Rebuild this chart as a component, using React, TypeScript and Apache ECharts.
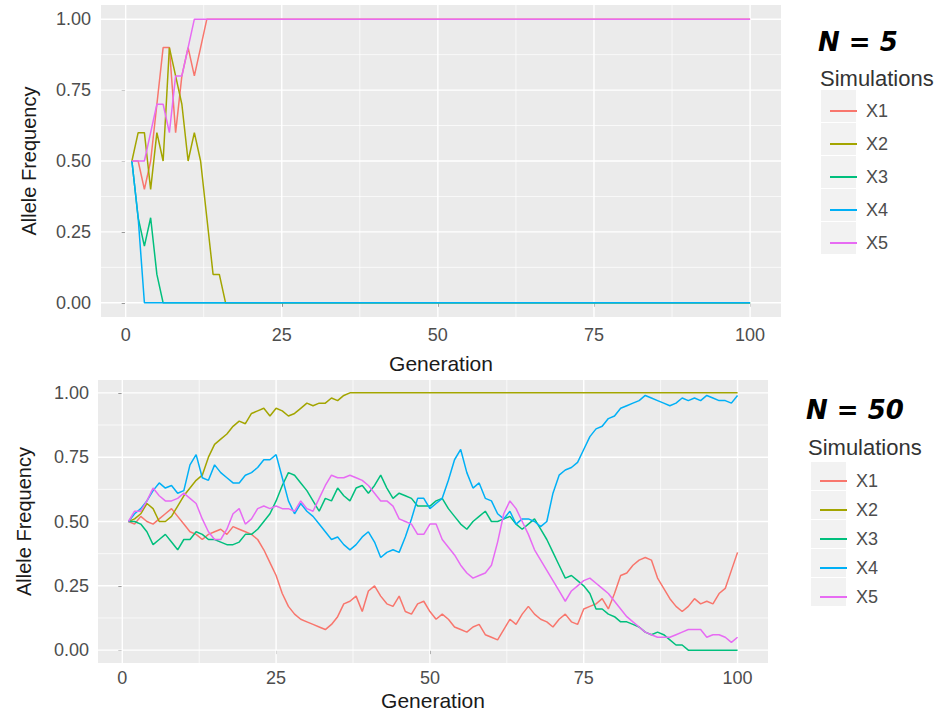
import React, { useEffect, useRef } from "react";
import * as echarts from "echarts";

// ---------- data ----------
const SERIES_NAMES = ["X1", "X2", "X3", "X4", "X5"];
const COLORS = ["#F8766D", "#A3A500", "#00BF7D", "#00B0F6", "#E76BF3"];
const X_TICKS = [0, 25, 50, 75, 100];
const X_MINOR = [12.5, 37.5, 62.5, 87.5];
const Y_TICKS = [0, 0.25, 0.5, 0.75, 1];
const Y_MINOR = [0.125, 0.375, 0.625, 0.875];
const GENERATIONS = Array.from({ length: 100 }, (_, i) => i + 1);

// N = 5
const N5_X1 = [
  0.5, 0.5, 0.4, 0.5, 0.7, 0.9, 0.9, 0.6, 0.8, 0.9,
  0.8, 0.9, 1, 1, 1, 1, 1, 1, 1, 1,
  1, 1, 1, 1, 1, 1, 1, 1, 1, 1,
  1, 1, 1, 1, 1, 1, 1, 1, 1, 1,
  1, 1, 1, 1, 1, 1, 1, 1, 1, 1,
  1, 1, 1, 1, 1, 1, 1, 1, 1, 1,
  1, 1, 1, 1, 1, 1, 1, 1, 1, 1,
  1, 1, 1, 1, 1, 1, 1, 1, 1, 1,
  1, 1, 1, 1, 1, 1, 1, 1, 1, 1,
  1, 1, 1, 1, 1, 1, 1, 1, 1, 1,
];
const N5_X2 = [
  0.5, 0.6, 0.6, 0.4, 0.6, 0.5, 0.9, 0.8, 0.7, 0.5,
  0.6, 0.5, 0.3, 0.1, 0.1, 0, 0, 0, 0, 0,
  0, 0, 0, 0, 0, 0, 0, 0, 0, 0,
  0, 0, 0, 0, 0, 0, 0, 0, 0, 0,
  0, 0, 0, 0, 0, 0, 0, 0, 0, 0,
  0, 0, 0, 0, 0, 0, 0, 0, 0, 0,
  0, 0, 0, 0, 0, 0, 0, 0, 0, 0,
  0, 0, 0, 0, 0, 0, 0, 0, 0, 0,
  0, 0, 0, 0, 0, 0, 0, 0, 0, 0,
  0, 0, 0, 0, 0, 0, 0, 0, 0, 0,
];
const N5_X3 = [
  0.5, 0.3, 0.2, 0.3, 0.1, 0, 0, 0, 0, 0,
  0, 0, 0, 0, 0, 0, 0, 0, 0, 0,
  0, 0, 0, 0, 0, 0, 0, 0, 0, 0,
  0, 0, 0, 0, 0, 0, 0, 0, 0, 0,
  0, 0, 0, 0, 0, 0, 0, 0, 0, 0,
  0, 0, 0, 0, 0, 0, 0, 0, 0, 0,
  0, 0, 0, 0, 0, 0, 0, 0, 0, 0,
  0, 0, 0, 0, 0, 0, 0, 0, 0, 0,
  0, 0, 0, 0, 0, 0, 0, 0, 0, 0,
  0, 0, 0, 0, 0, 0, 0, 0, 0, 0,
];
const N5_X4 = [
  0.5, 0.3, 0, 0, 0, 0, 0, 0, 0, 0,
  0, 0, 0, 0, 0, 0, 0, 0, 0, 0,
  0, 0, 0, 0, 0, 0, 0, 0, 0, 0,
  0, 0, 0, 0, 0, 0, 0, 0, 0, 0,
  0, 0, 0, 0, 0, 0, 0, 0, 0, 0,
  0, 0, 0, 0, 0, 0, 0, 0, 0, 0,
  0, 0, 0, 0, 0, 0, 0, 0, 0, 0,
  0, 0, 0, 0, 0, 0, 0, 0, 0, 0,
  0, 0, 0, 0, 0, 0, 0, 0, 0, 0,
  0, 0, 0, 0, 0, 0, 0, 0, 0, 0,
];
const N5_X5 = [
  0.5, 0.5, 0.5, 0.6, 0.7, 0.7, 0.6, 0.8, 0.8, 0.9,
  1, 1, 1, 1, 1, 1, 1, 1, 1, 1,
  1, 1, 1, 1, 1, 1, 1, 1, 1, 1,
  1, 1, 1, 1, 1, 1, 1, 1, 1, 1,
  1, 1, 1, 1, 1, 1, 1, 1, 1, 1,
  1, 1, 1, 1, 1, 1, 1, 1, 1, 1,
  1, 1, 1, 1, 1, 1, 1, 1, 1, 1,
  1, 1, 1, 1, 1, 1, 1, 1, 1, 1,
  1, 1, 1, 1, 1, 1, 1, 1, 1, 1,
  1, 1, 1, 1, 1, 1, 1, 1, 1, 1,
];

// N = 50
const N50_X1 = [
  0.50, 0.49, 0.52, 0.50, 0.49, 0.51, 0.53, 0.55, 0.52, 0.49,
  0.46, 0.45, 0.43, 0.45, 0.46, 0.47, 0.45, 0.48, 0.47, 0.46,
  0.45, 0.43, 0.39, 0.34, 0.29, 0.22, 0.17, 0.14, 0.12, 0.11,
  0.10, 0.09, 0.08, 0.10, 0.13, 0.18, 0.19, 0.21, 0.15, 0.23,
  0.25, 0.21, 0.18, 0.17, 0.21, 0.15, 0.14, 0.18, 0.19, 0.15,
  0.12, 0.14, 0.12, 0.09, 0.08, 0.07, 0.09, 0.10, 0.06, 0.05,
  0.04, 0.08, 0.12, 0.10, 0.14, 0.17, 0.14, 0.12, 0.11, 0.09,
  0.12, 0.14, 0.11, 0.10, 0.16, 0.17, 0.18, 0.20, 0.16, 0.22,
  0.29, 0.30, 0.33, 0.35, 0.36, 0.35, 0.28, 0.24, 0.20, 0.17,
  0.15, 0.17, 0.20, 0.18, 0.19, 0.18, 0.22, 0.24, 0.31, 0.38,
];
const N50_X2 = [
  0.50, 0.51, 0.53, 0.57, 0.55, 0.50, 0.50, 0.52, 0.56, 0.60,
  0.63, 0.66, 0.68, 0.75, 0.80, 0.82, 0.84, 0.87, 0.89, 0.88,
  0.92, 0.93, 0.94, 0.91, 0.94, 0.93, 0.91, 0.92, 0.94, 0.96,
  0.95, 0.96, 0.96, 0.98, 0.97, 0.99, 1, 1, 1, 1,
  1, 1, 1, 1, 1, 1, 1, 1, 1, 1,
  1, 1, 1, 1, 1, 1, 1, 1, 1, 1,
  1, 1, 1, 1, 1, 1, 1, 1, 1, 1,
  1, 1, 1, 1, 1, 1, 1, 1, 1, 1,
  1, 1, 1, 1, 1, 1, 1, 1, 1, 1,
  1, 1, 1, 1, 1, 1, 1, 1, 1, 1,
];
const N50_X3 = [
  0.50, 0.50, 0.49, 0.46, 0.41, 0.43, 0.45, 0.42, 0.39, 0.43,
  0.43, 0.46, 0.45, 0.43, 0.43, 0.42, 0.41, 0.41, 0.42, 0.45,
  0.45, 0.47, 0.50, 0.53, 0.58, 0.64, 0.69, 0.68, 0.65, 0.62,
  0.58, 0.54, 0.59, 0.58, 0.63, 0.60, 0.58, 0.63, 0.64, 0.61,
  0.64, 0.68, 0.63, 0.59, 0.61, 0.60, 0.59, 0.56, 0.56, 0.56,
  0.58, 0.59, 0.55, 0.52, 0.49, 0.47, 0.50, 0.52, 0.54, 0.50,
  0.50, 0.51, 0.52, 0.49, 0.47, 0.49, 0.51, 0.47, 0.43, 0.38,
  0.33, 0.28, 0.29, 0.27, 0.25, 0.22, 0.16, 0.16, 0.14, 0.13,
  0.11, 0.11, 0.10, 0.09, 0.07, 0.06, 0.07, 0.06, 0.04, 0.02,
  0.02, 0, 0, 0, 0, 0, 0, 0, 0, 0,
];
const N50_X4 = [
  0.50, 0.53, 0.55, 0.58, 0.62, 0.65, 0.63, 0.64, 0.61, 0.62,
  0.72, 0.76, 0.67, 0.66, 0.72, 0.69, 0.67, 0.65, 0.65, 0.68,
  0.69, 0.71, 0.74, 0.74, 0.76, 0.67, 0.58, 0.53, 0.57, 0.54,
  0.52, 0.49, 0.46, 0.43, 0.44, 0.41, 0.39, 0.41, 0.44, 0.46,
  0.42, 0.36, 0.38, 0.39, 0.38, 0.44, 0.51, 0.59, 0.59, 0.55,
  0.57, 0.59, 0.66, 0.74, 0.78, 0.69, 0.63, 0.65, 0.59, 0.58,
  0.53, 0.51, 0.54, 0.49, 0.51, 0.51, 0.50, 0.48, 0.50, 0.61,
  0.68, 0.70, 0.71, 0.73, 0.78, 0.83, 0.86, 0.87, 0.90, 0.91,
  0.94, 0.95, 0.96, 0.97, 0.99, 0.98, 0.97, 0.96, 0.95, 0.96,
  0.98, 0.97, 0.98, 0.97, 0.99, 0.98, 0.97, 0.97, 0.96, 0.99,
];
const N50_X5 = [
  0.50, 0.54, 0.54, 0.58, 0.63, 0.60, 0.58, 0.58, 0.59, 0.61,
  0.59, 0.57, 0.51, 0.46, 0.43, 0.43, 0.47, 0.53, 0.55, 0.49,
  0.51, 0.55, 0.56, 0.55, 0.56, 0.55, 0.55, 0.54, 0.58, 0.55,
  0.54, 0.59, 0.64, 0.68, 0.67, 0.67, 0.68, 0.67, 0.66, 0.64,
  0.61, 0.58, 0.58, 0.56, 0.51, 0.50, 0.49, 0.45, 0.45, 0.49,
  0.49, 0.43, 0.40, 0.37, 0.33, 0.30, 0.28, 0.29, 0.30, 0.33,
  0.42, 0.53, 0.58, 0.55, 0.50, 0.45, 0.39, 0.35, 0.31, 0.27,
  0.23, 0.19, 0.23, 0.25, 0.27, 0.28, 0.26, 0.24, 0.22, 0.19,
  0.16, 0.13, 0.11, 0.09, 0.07, 0.06, 0.05, 0.05, 0.05, 0.06,
  0.07, 0.08, 0.08, 0.08, 0.05, 0.06, 0.06, 0.05, 0.03, 0.05,
];

const PANELS = [
  { title: "N = 5", data: [N5_X1, N5_X2, N5_X3, N5_X4, N5_X5] },
  { title: "N = 50", data: [N50_X1, N50_X2, N50_X3, N50_X4, N50_X5] },
];

const X_MIN = -3.95;
const X_MAX = 104.95;
const Y_MIN = -0.05;
const Y_MAX = 1.05;
const FONT = "Liberation Sans, Arial, sans-serif";

export default function App() {
  const ref = useRef<HTMLDivElement>(null);

  useEffect(() => {
    document.body.style.margin = "0";
    const chart = echarts.init(ref.current!, null, { renderer: "svg" });

    const grids = [
      { left: 101, top: 5, width: 680, height: 312 },
      { left: 98, top: 380, width: 670, height: 283 },
    ];
    const axisCfg = [
      { xLabelMargin: 9, xNameGap: 36, yLabelMargin: 10, yNameGap: 62 },
      { xLabelMargin: 6, xNameGap: 27, yLabelMargin: 9, yNameGap: 64 },
    ];

    const gridLineData: number[][] = [];
    X_TICKS.forEach((v) => gridLineData.push([v, 1, 1]));
    X_MINOR.forEach((v) => gridLineData.push([v, 0, 1]));
    Y_TICKS.forEach((v) => gridLineData.push([v, 1, 0]));
    Y_MINOR.forEach((v) => gridLineData.push([v, 0, 0]));

    const series: any[] = [];
    PANELS.forEach((p, gi) => {
      series.push({
        type: "custom",
        xAxisIndex: gi,
        yAxisIndex: gi,
        silent: true,
        z: 1,
        clip: false,
        data: gridLineData,
        renderItem: (_params: any, api: any) => {
          const pos = api.value(0);
          const major = api.value(1);
          const vertical = api.value(2);
          const p1 = vertical ? api.coord([pos, Y_MIN]) : api.coord([X_MIN, pos]);
          const p2 = vertical ? api.coord([pos, Y_MAX]) : api.coord([X_MAX, pos]);
          return {
            type: "line",
            shape: { x1: p1[0], y1: p1[1], x2: p2[0], y2: p2[1] },
            style: { stroke: "#FFFFFF", lineWidth: major ? 1.4 : 0.7 },
          };
        },
      });
      p.data.forEach((vals, si) => {
        series.push({
          name: SERIES_NAMES[si],
          type: "line",
          xAxisIndex: gi,
          yAxisIndex: gi,
          z: 2,
          showSymbol: false,
          symbol: "none",
          color: COLORS[si],
          lineStyle: { width: 1.5, color: COLORS[si] },
          data: GENERATIONS.map((g, i) => [g, vals[i]]),
        });
      });
    });

    const legendTop = [96, 466];
    const legendGap = [13, 9];
    const legendLeft = [825, 815];
    const legends = [0, 1].map((i) => ({
      orient: "vertical",
      left: legendLeft[i],
      top: legendTop[i],
      itemGap: legendGap[i],
      itemWidth: 27,
      itemHeight: 2,
      icon: "rect",
      selectedMode: false,
      data: SERIES_NAMES,
      textStyle: {
        fontFamily: FONT,
        fontSize: 18,
        lineHeight: 20,
        color: "#4D4D4D",
        padding: [0, 0, 0, 4],
      },
    }));

    // legend key backgrounds
    const keyBg: any[] = [];
    [0, 1].forEach((i) => {
      const rowH = 20 + legendGap[i];
      for (let k = 0; k < SERIES_NAMES.length; k++) {
        const cy = legendTop[i] + 10 + k * rowH;
        keyBg.push({
          type: "rect",
          z: -1,
          shape: { x: legendLeft[i] - 4, y: cy - rowH / 2 + 0.5, width: 35, height: rowH - 1 },
          style: { fill: "#F2F2F2" },
        });
      }
    });

    chart.setOption({
      animation: false,
      backgroundColor: "#FFFFFF",
      grid: grids.map((g) => ({
        ...g,
        show: true,
        backgroundColor: "#EBEBEB",
        borderWidth: 0,
        containLabel: false,
      })),
      xAxis: [0, 1].map((i) => ({
        type: "value",
        gridIndex: i,
        min: X_MIN,
        max: X_MAX,
        axisLine: { show: false },
        splitLine: { show: false },
        axisTick: {
          show: true,
          customValues: X_TICKS,
          length: 4,
          lineStyle: { color: "#333333", width: 1 },
        },
        axisLabel: {
          customValues: X_TICKS,
          margin: axisCfg[i].xLabelMargin,
          fontFamily: FONT,
          fontSize: 18,
          color: "#4D4D4D",
        },
        name: "Generation",
        nameLocation: "middle",
        nameGap: axisCfg[i].xNameGap,
        nameTextStyle: { fontFamily: FONT, fontSize: 21, color: "#1A1A1A" },
      })),
      yAxis: [0, 1].map((i) => ({
        type: "value",
        gridIndex: i,
        min: Y_MIN,
        max: Y_MAX,
        axisLine: { show: false },
        splitLine: { show: false },
        axisTick: {
          show: true,
          customValues: Y_TICKS,
          length: 4,
          lineStyle: { color: "#333333", width: 1 },
        },
        axisLabel: {
          customValues: Y_TICKS,
          margin: axisCfg[i].yLabelMargin,
          fontFamily: FONT,
          fontSize: 18,
          color: "#4D4D4D",
          formatter: (v: number) => v.toFixed(2),
        },
        name: "Allele Frequency",
        nameLocation: "middle",
        nameGap: axisCfg[i].yNameGap,
        nameRotate: 90,
        nameTextStyle: { fontFamily: FONT, fontSize: 20, color: "#1A1A1A" },
      })),
      legend: legends,
      graphic: [
        ...keyBg,
        {
          type: "text",
          left: 818,
          top: 29,
          style: {
            text: PANELS[0].title,
            font: "italic bold 26px 'DejaVu Sans', Verdana, sans-serif",
            fill: "#000000",
          },
        },
        {
          type: "text",
          left: 820,
          top: 67,
          style: {
            text: "Simulations",
            font: `22px ${FONT}`,
            fill: "#333333",
          },
        },
        {
          type: "text",
          left: 806,
          top: 397,
          style: {
            text: PANELS[1].title,
            font: "italic bold 26px 'DejaVu Sans', Verdana, sans-serif",
            fill: "#000000",
          },
        },
        {
          type: "text",
          left: 808,
          top: 436,
          style: {
            text: "Simulations",
            font: `22px ${FONT}`,
            fill: "#333333",
          },
        },
      ],
      series,
    });

    return () => chart.dispose();
  }, []);

  return <div ref={ref} style={{ width: 950, height: 713 }} />;
}
